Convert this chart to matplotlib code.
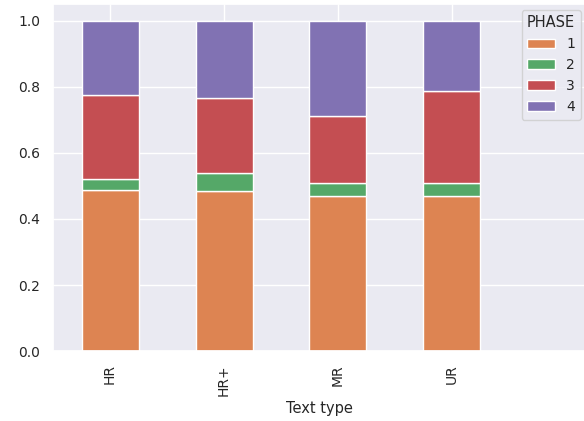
import numpy as np
import matplotlib
matplotlib.use("Agg")
import matplotlib.pyplot as plt
import seaborn as sns

# Data
text_types = ["HR", "HR+", "MR", "UR"]
phases = ["1", "2", "3", "4"]
phase1 = [0.489, 0.485, 0.469, 0.469]
phase2 = [0.033, 0.053, 0.040, 0.040]
phase3 = [0.252, 0.228, 0.203, 0.279]
phase4 = [0.226, 0.234, 0.288, 0.212]

colors = ["#dd8452", "#55a868", "#c44e52", "#8172b3"]

sns.set_theme(style="darkgrid")
plt.rcParams['font.family'] = ['DejaVu Sans']

fig = plt.figure(figsize=(5.84, 4.21), dpi=100)
ax = fig.add_axes([0.091, 0.166, 0.913, 0.824])

x = np.arange(len(text_types))
bottom = np.zeros(len(text_types))
for name, vals, col in zip(phases, [phase1, phase2, phase3, phase4], colors):
    ax.bar(x, vals, width=0.5, bottom=bottom, color=col, edgecolor="white",
           linewidth=1, label=name)
    bottom += np.array(vals)

ax.set_xticks(x)
ax.set_xticklabels(text_types, rotation=90, fontsize=10)
ax.tick_params(axis="y", labelsize=10)
ax.set_xlim(-0.5, 4.18)
ax.set_ylim(0, 1.05)
ax.set_xlabel("Text type", fontsize=10.5)

leg = ax.legend(title="PHASE", loc="upper right", fontsize=10,
                title_fontsize=10.5, borderaxespad=0.4)

fig.savefig("out.png", dpi=100)
